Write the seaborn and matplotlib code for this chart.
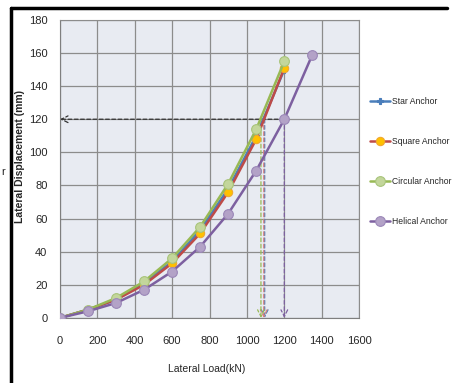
import matplotlib
matplotlib.use("Agg")
import matplotlib.pyplot as plt
import seaborn as sns
import pandas as pd
from matplotlib.ticker import MultipleLocator

sns.set_style("white")
plt.rcParams['font.family'] = ['Liberation Sans', 'DejaVu Sans']

loads = [0, 150, 300, 450, 600, 750, 900, 1050, 1200]
loads_helical = [0, 150, 300, 450, 600, 750, 900, 1050, 1200, 1350]
star = [0, 5, 11, 21, 34, 53, 78, 110, 150]
square = [0, 5, 11, 20, 33, 51, 76, 108, 151]
circular = [0, 5, 12, 22, 36, 55, 81, 114, 155]
helical = [0, 4, 9, 17, 28, 43, 63, 89, 120, 159]
series_names = ["Star Anchor", "Square Anchor", "Circular Anchor", "Helical Anchor"]

ref_disp = 120
ref_loads = [1095, 1090, 1075, 1200]  # star, square, circular, helical

fig = plt.figure(figsize=(4.54, 3.83), dpi=100)
ax = fig.add_axes([0.132, 0.170, 0.659, 0.778])
ax.set_facecolor("#E8EBF2")

styles = [
    dict(color="#4A7EBB", marker="P", ms=4, mfc="#4A7EBB", mec="#4A7EBB"),
    dict(color="#BE4B48", marker="o", ms=6, mfc="#FFC000", mec="#F0A830"),
    dict(color="#98B954", marker="o", ms=7, mfc="#C3D69B", mec="#A8C47A"),
    dict(color="#7D60A0", marker="o", ms=7, mfc="#B3A2C7", mec="#9B87B8"),
]
xs = [loads, loads, loads, loads_helical]
ys = [star, square, circular, helical]
for name, x, y, st in zip(series_names, xs, ys, styles):
    df = pd.DataFrame({"load": x, "disp": y})
    sns.lineplot(data=df, x="load", y="disp", ax=ax, color=st["color"], lw=1.8,
                 marker=st["marker"], markersize=st["ms"], markerfacecolor=st["mfc"],
                 markeredgecolor=st["mec"], markeredgewidth=0.8, label=name, zorder=3)

# reference arrows
ax.annotate("", xy=(0, ref_disp), xytext=(ref_loads[3], ref_disp),
            arrowprops=dict(arrowstyle="->", color="#333333", lw=0.9, ls=(0, (3, 2)),
                            mutation_scale=12, shrinkA=0, shrinkB=0), zorder=2)
arrow_colors = ["#4A7EBB", "#D9817F", "#98B954", "#7D60A0"]
for lx, c in zip(ref_loads, arrow_colors):
    ax.annotate("", xy=(lx, 0), xytext=(lx, ref_disp),
                arrowprops=dict(arrowstyle="->", color=c, lw=0.9, ls=(0, (3, 2)),
                                mutation_scale=12, shrinkA=0, shrinkB=0), zorder=2)

ax.set_xlim(0, 1600)
ax.set_ylim(0, 180)
ax.xaxis.set_major_locator(MultipleLocator(200))
ax.xaxis.set_minor_locator(MultipleLocator(40))
ax.yaxis.set_major_locator(MultipleLocator(20))
ax.yaxis.set_minor_locator(MultipleLocator(4))
ax.grid(True, which="major", color="#8C8C8C", lw=0.9)
ax.set_axisbelow(True)
for s in ["top", "right"]:
    ax.spines[s].set_color("#8C8C8C")
for s in ["left", "bottom"]:
    ax.spines[s].set_color("#7F7F7F")
ax.tick_params(axis="both", which="major", direction="inout", length=6, color="#7F7F7F",
               labelsize=8, pad=6)
ax.tick_params(axis="both", which="minor", direction="inout", length=4, color="#7F7F7F")
ax.tick_params(axis="x", pad=10)

ax.set_xlabel("Lateral Load(kN)", fontsize=7.5)
ax.xaxis.set_label_coords(0.49, -0.155)
ax.set_ylabel("Lateral Displacement (mm)", fontsize=7.5, fontweight="bold")
ax.yaxis.set_label_coords(-0.118, 0.54)

h, l = ax.get_legend_handles_labels()
leg = ax.legend(h, l, loc="center left", bbox_to_anchor=(1.0, 0.525), frameon=False,
                fontsize=6.2, labelspacing=3.6, handlelength=2.3, handletextpad=0.2,
                borderaxespad=0.9)

# frame lines from the original screenshot
fig.add_artist(plt.Line2D([11/454, 447/454], [1 - 8/383, 1 - 8/383],
                          transform=fig.transFigure, color="black", lw=2.5))
fig.add_artist(plt.Line2D([11/454, 11/454], [1 - 8/383, 0], transform=fig.transFigure,
                          color="black", lw=2.5))
fig.text(1/454, 1 - 172/383, "r", fontsize=8, va="center")

fig.savefig("out.png", dpi=100)
